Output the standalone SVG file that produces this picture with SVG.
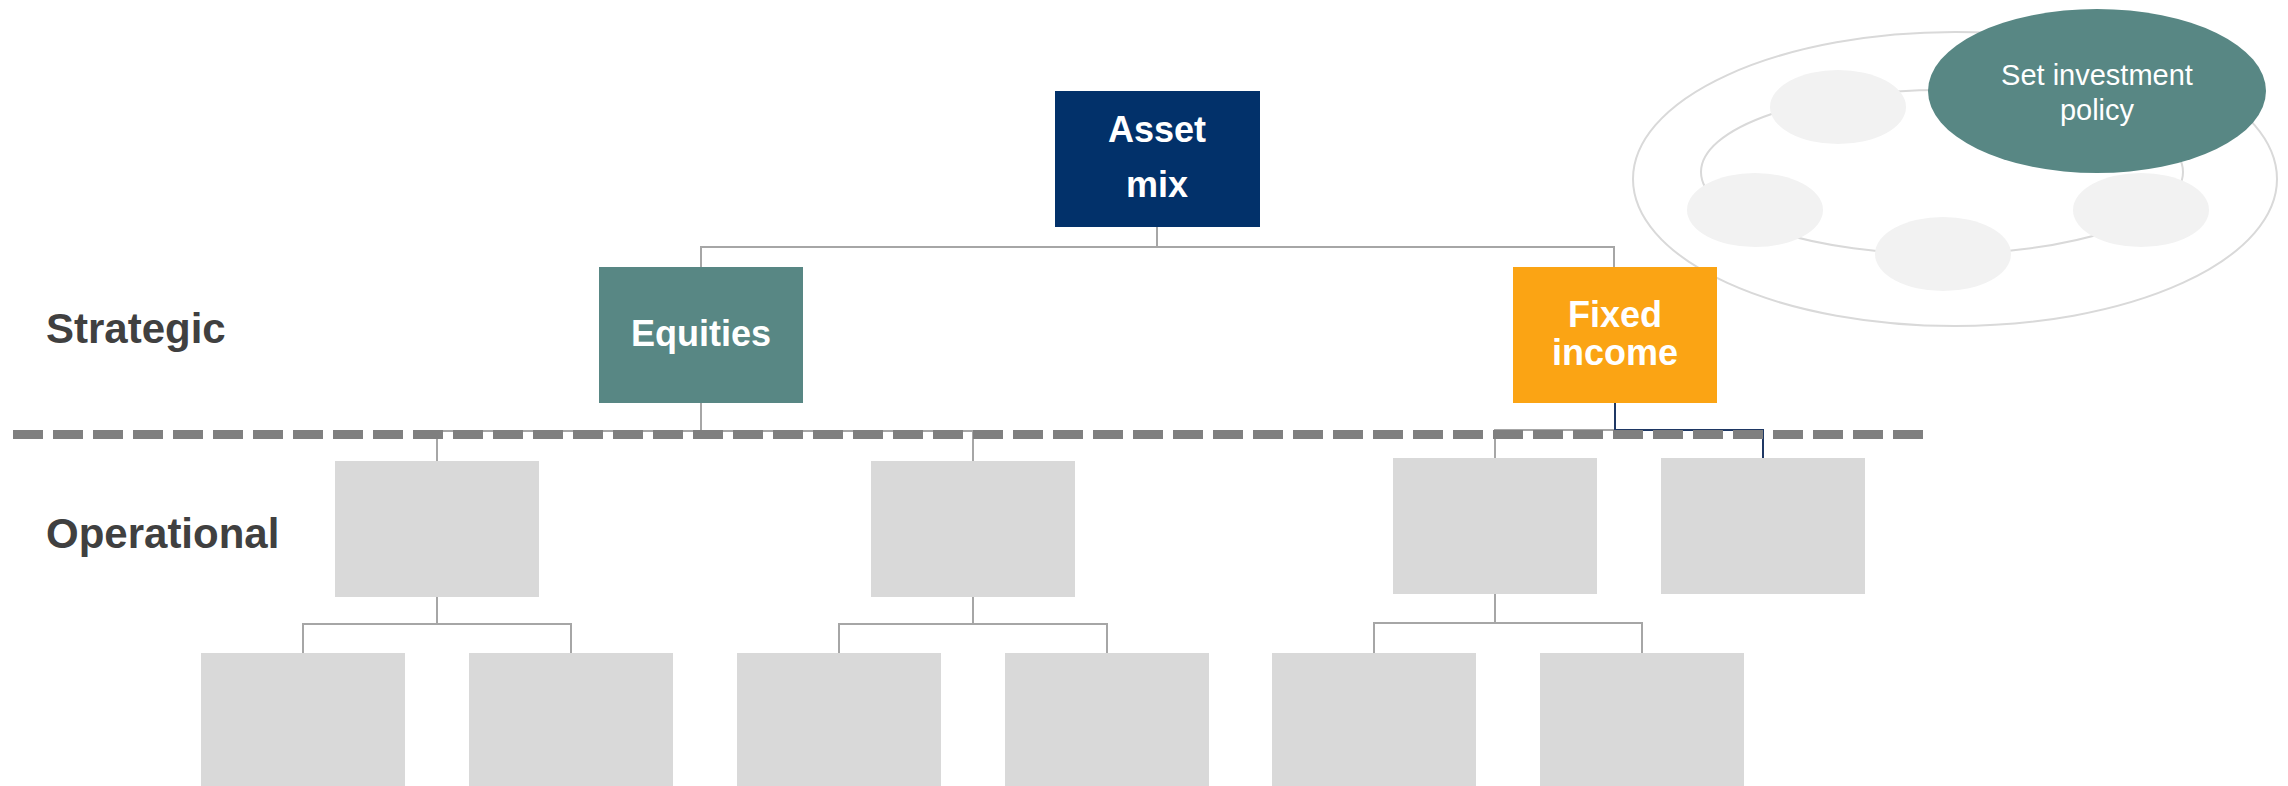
<svg xmlns="http://www.w3.org/2000/svg" width="2288" height="786" viewBox="0 0 2288 786">
  <style>
    .lbl { font-family: "Liberation Sans", Arial, sans-serif; font-weight: bold; fill: #404040; font-size: 42px; }
    .box-text { font-family: "Liberation Sans", Arial, sans-serif; font-weight: bold; fill: #ffffff; font-size: 36px; text-anchor: middle; }
    .ell-text { font-family: "Liberation Sans", Arial, sans-serif; fill: #ffffff; font-size: 29px; text-anchor: middle; }
    .grey-box { fill: #d9d9d9; }
    .conn { fill: none; stroke: #a6a6a6; stroke-width: 2; }
    .conn-navy { fill: none; stroke: #1f3864; stroke-width: 2; }
    .ring { fill: none; stroke: #d9d9d9; stroke-width: 2; }
    .step { fill: #f2f2f2; }
  </style>
  <rect width="2288" height="786" fill="#ffffff"/>

  <!-- cycle graphic, top right -->
  <g id="cycle">
    <ellipse class="ring" cx="1955" cy="179" rx="322" ry="147"/>
    <ellipse class="ring" cx="1942" cy="172" rx="241" ry="82"/>
    <ellipse class="step" cx="1838" cy="107" rx="68" ry="37"/>
    <ellipse class="step" cx="1755" cy="210" rx="68" ry="37"/>
    <ellipse class="step" cx="1943" cy="254" rx="68" ry="37"/>
    <ellipse class="step" cx="2141" cy="210" rx="68" ry="37"/>
    <g id="set-policy">
      <ellipse cx="2097" cy="91" rx="169" ry="82" fill="#588784"/>
      <text class="ell-text" x="2097" y="85">Set investment</text>
      <text class="ell-text" x="2097" y="120">policy</text>
    </g>
  </g>

  <!-- tier labels -->
  <text class="lbl" x="46" y="343">Strategic</text>
  <text class="lbl" x="46" y="548">Operational</text>

  <!-- connectors -->
  <g id="connectors">
    <!-- asset mix to asset classes -->
    <path class="conn" d="M1157 227 V247 M701 267 V247 H1614 V267"/>
    <!-- equities to operational boxes -->
    <path class="conn" d="M701 403 V431 M437 461 V431 H973 V461"/>
    <!-- fixed income to operational boxes -->
    <path class="conn" d="M1495 458 V430 H1615"/>
    <path class="conn-navy" d="M1615 403 V430 H1763 V458"/>
    <!-- operational to leaf boxes -->
    <path class="conn" d="M437 597 V624 M303 653 V624 H571 V653"/>
    <path class="conn" d="M973 597 V624 M839 653 V624 H1107 V653"/>
    <path class="conn" d="M1495 594 V623 M1374 653 V623 H1642 V653"/>
  </g>

  <!-- strategic / operational divider -->
  <line x1="13" y1="434.5" x2="1923" y2="434.5" stroke="#7f7f7f" stroke-width="9" stroke-dasharray="30 10"/>

  <!-- strategic nodes -->
  <g id="asset-mix">
    <rect x="1055" y="91" width="205" height="136" fill="#02316a"/>
    <text class="box-text" x="1157" y="142">Asset</text>
    <text class="box-text" x="1157" y="197">mix</text>
  </g>
  <g id="equities">
    <rect x="599" y="267" width="204" height="136" fill="#588784"/>
    <text class="box-text" x="701" y="346">Equities</text>
  </g>
  <g id="fixed-income">
    <rect x="1513" y="267" width="204" height="136" fill="#fba414"/>
    <text class="box-text" x="1615" y="327">Fixed</text>
    <text class="box-text" x="1615" y="365">income</text>
  </g>

  <!-- operational nodes -->
  <g id="op-1"><rect class="grey-box" x="335" y="461" width="204" height="136"/></g>
  <g id="op-2"><rect class="grey-box" x="871" y="461" width="204" height="136"/></g>
  <g id="op-3"><rect class="grey-box" x="1393" y="458" width="204" height="136"/></g>
  <g id="op-4"><rect class="grey-box" x="1661" y="458" width="204" height="136"/></g>

  <!-- leaf nodes -->
  <g id="leaf-1"><rect class="grey-box" x="201" y="653" width="204" height="136"/></g>
  <g id="leaf-2"><rect class="grey-box" x="469" y="653" width="204" height="136"/></g>
  <g id="leaf-3"><rect class="grey-box" x="737" y="653" width="204" height="136"/></g>
  <g id="leaf-4"><rect class="grey-box" x="1005" y="653" width="204" height="136"/></g>
  <g id="leaf-5"><rect class="grey-box" x="1272" y="653" width="204" height="136"/></g>
  <g id="leaf-6"><rect class="grey-box" x="1540" y="653" width="204" height="136"/></g>
</svg>
